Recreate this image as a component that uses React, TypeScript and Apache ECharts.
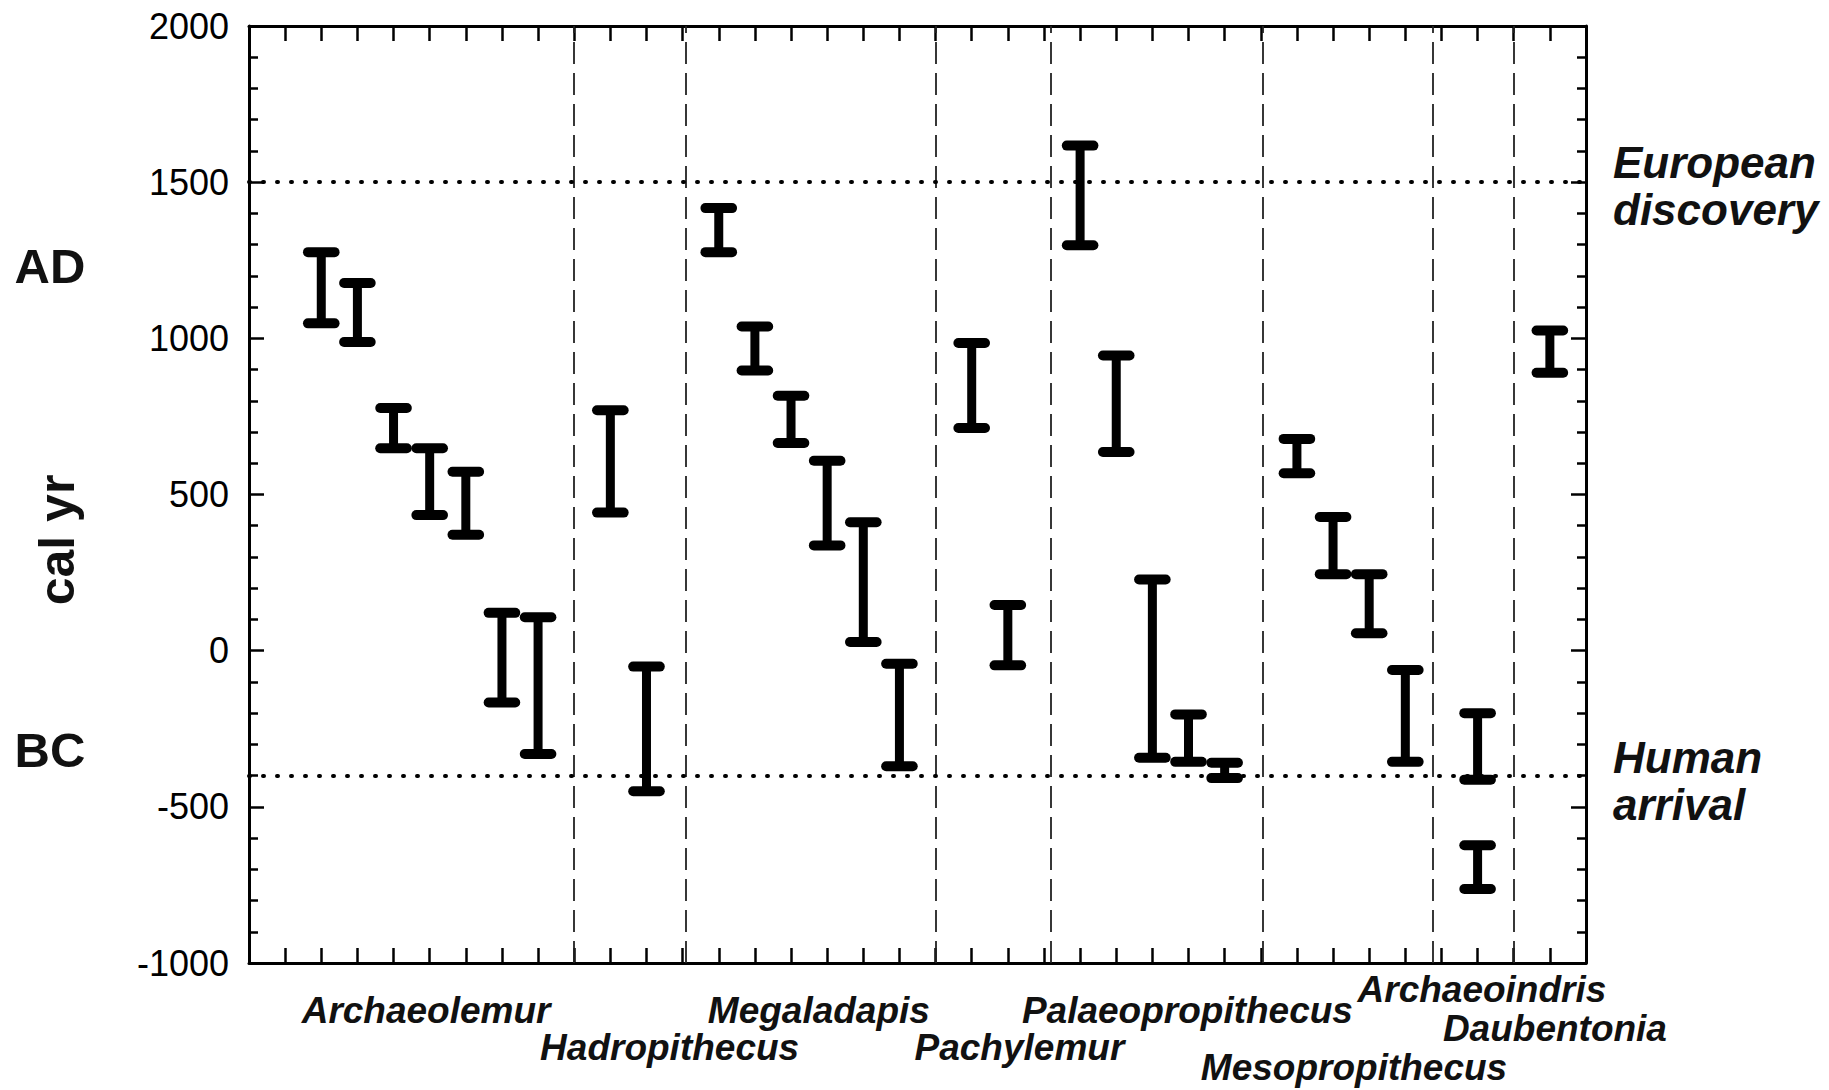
import React, { useEffect, useRef } from "react";
import * as echarts from "echarts";

// ---- data ----
const barX = [2, 3, 4, 5, 6, 7, 8, 10, 11, 13, 14, 15, 16, 17, 18, 20, 21, 23, 24, 25, 26, 27, 29, 30, 31, 32, 34, 34, 36];
const barLow = [1048, 988, 648, 434, 371, -166, -331, 442, -450, 1276, 897, 665, 337, 28, -370, 713, -47, 1298, 636, -343, -356, -408, 568, 245, 56, -356, -413, -763, 890];
const barHigh = [1276, 1177, 777, 648, 573, 121, 107, 770, -51, 1417, 1038, 816, 608, 411, -42, 985, 146, 1617, 945, 228, -204, -359, 678, 428, 245, -62, -200, -623, 1025];

const genusNames = ["Archaeolemur", "Hadropithecus", "Megaladapis", "Pachylemur", "Palaeopropithecus", "Mesopropithecus", "Archaeoindris", "Daubentonia"];
const genusCenters = [4.9, 11.64, 15.77, 21.32, 25.97, 30.58, 34.12, 36.14];
const separators = [9, 12.08, 19, 22.2, 28.05, 32.76, 35];
const eventYears = [1500, -400];
const eventLabels = [["European", "discovery"], ["Human", "arrival"]];
const yTickMin = -1000;
const yTickMax = 2000;
const yTickStep = 500;

// ---- layout (not data) ----
const genusRow = [1, 3, 1, 3, 1, 4, 0, 2];
const rowMiddleY = [989, 1010, 1028, 1047, 1067];
const FONT = "'Liberation Sans', Arial, Helvetica, sans-serif";

export default function App() {
  const ref = useRef<HTMLDivElement>(null);

  useEffect(() => {
    if (!ref.current) return;
    const chart = echarts.init(ref.current, null, { renderer: "svg" });
    const data = barX.map((x, i) => [x, barLow[i], barHigh[i]]);

    const axisLine = { show: true, onZero: false, lineStyle: { color: "#000", width: 3 } };
    const tick = { show: true, inside: true, length: 15, lineStyle: { color: "#000", width: 2.5 } };
    const xAxisBase = {
      type: "value",
      min: 0,
      max: 37,
      interval: 1,
      axisLine,
      axisTick: tick,
      axisLabel: { show: false },
      splitLine: { show: false },
    };
    const yAxisBase = {
      type: "value",
      min: yTickMin,
      max: yTickMax,
      interval: yTickStep,
      axisLine,
      axisTick: tick,
      minorTick: { show: true, splitNumber: 5, length: 9, lineStyle: { color: "#000", width: 2.5 } },
      splitLine: { show: false },
      minorSplitLine: { show: false },
    };

    chart.setOption({
      animation: false,
      backgroundColor: "#fff",
      grid: { left: 249, top: 26, right: 243, bottom: 127, containLabel: false },
      xAxis: [
        { ...xAxisBase, position: "bottom" },
        { ...xAxisBase, position: "top" },
      ],
      yAxis: [
        {
          ...yAxisBase,
          position: "left",
          axisLabel: {
            show: true,
            fontSize: 36,
            color: "#000",
            fontFamily: FONT,
            margin: 20,
            formatter: (v: number) => String(v),
          },
        },
        { ...yAxisBase, position: "right", axisLabel: { show: false } },
      ],
      series: [
        {
          type: "custom",
          xAxisIndex: 0,
          yAxisIndex: 0,
          encode: { x: 0, y: [1, 2] },
          data,
          z: 5,
          renderItem: (params: any, api: any) => {
            const x = api.value(0);
            const lo = api.value(1);
            const hi = api.value(2);
            const top = api.coord([x, hi]);
            const bot = api.coord([x, lo]);
            const half = api.size([1, 0])[0] * 0.368;
            const capStyle = { stroke: "#000", lineWidth: 10, lineCap: "round" };
            return {
              type: "group",
              children: [
                { type: "line", shape: { x1: top[0], y1: top[1], x2: bot[0], y2: bot[1] }, style: { stroke: "#000", lineWidth: 9 } },
                { type: "line", shape: { x1: top[0] - half, y1: top[1], x2: top[0] + half, y2: top[1] }, style: capStyle },
                { type: "line", shape: { x1: bot[0] - half, y1: bot[1], x2: bot[0] + half, y2: bot[1] }, style: capStyle },
              ],
            };
          },
          markLine: {
            silent: true,
            symbol: "none",
            label: { show: false },
            z: 1,
            data: [
              ...separators.map((v) => ({ xAxis: v, lineStyle: { type: [22, 9], width: 1.8, color: "#222" } })),
              ...eventYears.map((v) => ({ yAxis: v, lineStyle: { type: [1, 13], width: 4, cap: "round", color: "#000" } })),
            ],
          },
        },
      ],
    });

    const px = (xv: number) => chart.convertToPixel({ xAxisIndex: 0 }, xv) as number;
    const py = (yv: number) => chart.convertToPixel({ yAxisIndex: 0 }, yv) as number;

    const graphics: any[] = [];
    genusNames.forEach((name, i) => {
      graphics.push({
        type: "text",
        x: px(genusCenters[i]),
        y: rowMiddleY[genusRow[i]],
        style: {
          text: name,
          fontSize: 37,
          fontWeight: "bold",
          fontStyle: "italic",
          fontFamily: FONT,
          fill: "#111",
          align: "center",
          verticalAlign: "middle",
        },
      });
    });
    eventYears.forEach((yv, i) => {
      const yc = py(yv);
      const offsets = i === 0 ? [-20, 27] : [-18, 29];
      eventLabels[i].forEach((line, j) => {
        graphics.push({
          type: "text",
          x: 1613,
          y: yc + offsets[j],
          style: {
            text: line,
            fontSize: 44,
            fontWeight: "bold",
            fontStyle: "italic",
            fontFamily: FONT,
            fill: "#111",
            align: "left",
            verticalAlign: "middle",
          },
        });
      });
    });
    graphics.push({
      type: "text",
      x: 50,
      y: 266,
      style: { text: "AD", fontSize: 49, fontWeight: "bold", fontFamily: FONT, fill: "#111", align: "center", verticalAlign: "middle" },
    });
    graphics.push({
      type: "text",
      x: 50,
      y: 750,
      style: { text: "BC", fontSize: 49, fontWeight: "bold", fontFamily: FONT, fill: "#111", align: "center", verticalAlign: "middle" },
    });
    graphics.push({
      type: "text",
      x: 57,
      y: 540,
      rotation: Math.PI / 2,
      style: { text: "cal yr", fontSize: 50, fontWeight: "bold", fontFamily: FONT, fill: "#111", align: "center", verticalAlign: "middle" },
    });
    chart.setOption({ graphic: graphics });

    return () => chart.dispose();
  }, []);

  return (
    <div
      ref={ref}
      style={{ position: "fixed", left: 0, top: 0, width: 1829, height: 1090, background: "#fff" }}
    />
  );
}
